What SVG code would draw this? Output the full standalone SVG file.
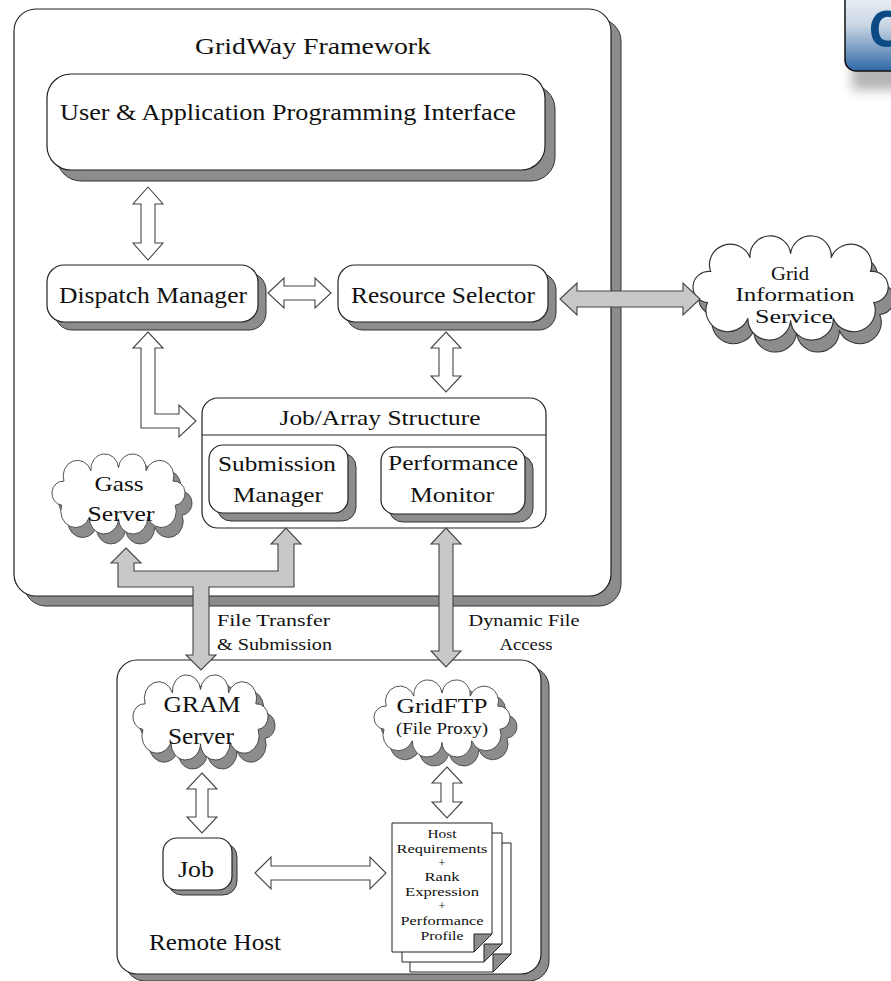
<svg xmlns="http://www.w3.org/2000/svg" width="891" height="981" viewBox="0 0 891 981">
<defs>
<style>
text{font-family:"Liberation Serif","Times New Roman",serif;fill:#111;}
.box{fill:#fff;stroke:#222;stroke-width:1.2;}
.shd{fill:#8c8c8c;stroke:#333;stroke-width:1;}
.ha{fill:#fff;stroke:#444;stroke-width:1.1;}
.ga{fill:#c8c8c8;stroke:#444;stroke-width:1.1;}
.cl{fill:#fff;stroke:#333;stroke-width:1.1;vector-effect:non-scaling-stroke;}
.cs{fill:#8c8c8c;stroke:#333;stroke-width:1;vector-effect:non-scaling-stroke;}
.pg{fill:#fff;stroke:#222;stroke-width:1;}
.fold{fill:#8c8c8c;stroke:#222;stroke-width:1;}
.m{text-anchor:middle;}
</style>
<path id="cloud" d="M25,35 A1,1 0 0 1 62,22 A1,1 0 0 1 100,18 A1,1 0 0 1 138,22 A1,1 0 0 1 175,35 A1,1 0 0 1 178,65 A1,1 0 0 1 140,80 A1,1 0 0 1 100,82 A1,1 0 0 1 60,80 A1,1 0 0 1 22,65 A1,1 0 0 1 25,35 Z"/>
<linearGradient id="lg" x1="0" y1="0" x2="0" y2="1">
<stop offset="0" stop-color="#f4f7fa"/>
<stop offset="0.45" stop-color="#c9d6e4"/>
<stop offset="1" stop-color="#2f68a6"/>
</linearGradient>
<filter id="blur" x="-50%" y="-50%" width="200%" height="200%"><feGaussianBlur stdDeviation="6"/></filter>
</defs>

<g id="logo">
<rect x="852" y="60" width="60" height="30" fill="#777" opacity="0.55" filter="url(#blur)"/>
<rect x="845" y="-12" width="70" height="83" rx="11" fill="url(#lg)" stroke="#111" stroke-width="1.5"/>
<text x="868" y="47" style="font-family:'Open Sans','Liberation Sans',sans-serif;font-weight:bold;font-size:50px;fill:#0b4a85">C</text>
</g>

<g id="gridway-framework">
<rect x="24" y="19" width="597" height="587" rx="22" class="shd"/>
<rect x="14" y="9" width="597" height="587" rx="22" class="box"/>
<text x="313" y="54" class="m" font-size="24" textLength="236" lengthAdjust="spacingAndGlyphs">GridWay Framework</text>
</g>

<g id="remote-host">
<rect x="125" y="667" width="424" height="314" rx="20" class="shd"/>
<rect x="117" y="660" width="424" height="314" rx="20" class="box"/>
<text x="149" y="950" font-size="23" textLength="132" lengthAdjust="spacingAndGlyphs">Remote Host</text>
</g>

<g id="uapi">
<rect x="57" y="85" width="498" height="96" rx="24" class="shd"/>
<rect x="47" y="74" width="498" height="96" rx="24" class="box"/>
<text x="288" y="120" class="m" font-size="24" textLength="456" lengthAdjust="spacingAndGlyphs">User &amp; Application Programming Interface</text>
</g>

<g id="dispatch-manager">
<rect x="55" y="273" width="211" height="57" rx="17" class="shd"/>
<rect x="47" y="265" width="211" height="57" rx="17" class="box"/>
<text x="153" y="303" class="m" font-size="24" textLength="188" lengthAdjust="spacingAndGlyphs">Dispatch Manager</text>
</g>

<g id="resource-selector">
<rect x="346" y="273" width="210" height="57" rx="17" class="shd"/>
<rect x="338" y="265" width="210" height="57" rx="17" class="box"/>
<text x="443" y="303" class="m" font-size="24" textLength="184" lengthAdjust="spacingAndGlyphs">Resource Selector</text>
</g>

<g id="job-array-structure">
<rect x="202" y="398" width="344" height="130" rx="16" class="box"/>
<line x1="202" y1="435" x2="546" y2="435" stroke="#222" stroke-width="1.2"/>
<text x="380" y="425" class="m" font-size="22" textLength="201" lengthAdjust="spacingAndGlyphs">Job/Array Structure</text>
</g>

<g id="submission-manager">
<rect x="217" y="453" width="139" height="68" rx="14" class="shd"/>
<rect x="209" y="445" width="139" height="68" rx="14" class="box"/>
<text x="277" y="471" class="m" font-size="22" textLength="118" lengthAdjust="spacingAndGlyphs">Submission</text>
<text x="278" y="502" class="m" font-size="22" textLength="90" lengthAdjust="spacingAndGlyphs">Manager</text>
</g>

<g id="performance-monitor">
<rect x="389" y="455" width="144" height="67" rx="14" class="shd"/>
<rect x="381" y="447" width="144" height="67" rx="14" class="box"/>
<text x="453" y="470" class="m" font-size="22" textLength="130" lengthAdjust="spacingAndGlyphs">Performance</text>
<text x="452" y="502" class="m" font-size="22" textLength="84" lengthAdjust="spacingAndGlyphs">Monitor</text>
</g>

<g id="gass-server">
<use href="#cloud" class="cs" transform="translate(52.8,463.2) scale(0.727,0.8)"/>
<use href="#cloud" class="cl" transform="translate(45.8,453.2) scale(0.727,0.8)"/>
<text x="119" y="491" class="m" font-size="22" textLength="49" lengthAdjust="spacingAndGlyphs">Gass</text>
<text x="121" y="521" class="m" font-size="22" textLength="67" lengthAdjust="spacingAndGlyphs">Server</text>
</g>

<g id="grid-information-service">
<use href="#cloud" class="cs" transform="translate(690,247) scale(1.066,1.04)"/>
<use href="#cloud" class="cl" transform="translate(684,235) scale(1.066,1.04)"/>
<text x="790" y="280" class="m" font-size="19" textLength="38" lengthAdjust="spacingAndGlyphs">Grid</text>
<text x="795" y="301" class="m" font-size="19" textLength="119" lengthAdjust="spacingAndGlyphs">Information</text>
<text x="794" y="323" class="m" font-size="19" textLength="78" lengthAdjust="spacingAndGlyphs">Service</text>
</g>

<g id="gram-server">
<use href="#cloud" class="cs" transform="translate(133.7,683.15) scale(0.738,0.85)"/>
<use href="#cloud" class="cl" transform="translate(126.7,674.15) scale(0.738,0.85)"/>
<text x="202" y="712" class="m" font-size="23" textLength="77" lengthAdjust="spacingAndGlyphs">GRAM</text>
<text x="201" y="744" class="m" font-size="23" textLength="66" lengthAdjust="spacingAndGlyphs">Server</text>
</g>

<g id="gridftp">
<use href="#cloud" class="cs" transform="translate(374.7,688.2) scale(0.743,0.77)"/>
<use href="#cloud" class="cl" transform="translate(367.7,679.2) scale(0.743,0.77)"/>
<text x="442" y="713" class="m" font-size="22" textLength="91" lengthAdjust="spacingAndGlyphs">GridFTP</text>
<text x="442" y="734" class="m" font-size="16" textLength="92" lengthAdjust="spacingAndGlyphs">(File Proxy)</text>
</g>

<g id="job">
<rect x="168" y="843" width="69" height="52" rx="14" class="shd"/>
<rect x="163" y="838" width="69" height="52" rx="14" class="box"/>
<text x="196" y="877" class="m" font-size="23" textLength="36" lengthAdjust="spacingAndGlyphs">Job</text>
</g>

<g id="documents">
<polygon points="410,843 511,843 511,954 493,972 410,972" class="pg"/>
<polygon points="511,954 493,954 493,972" class="fold"/>
<polygon points="402,833 502,833 502,944 484,962 402,962" class="pg"/>
<polygon points="502,944 484,944 484,962" class="fold"/>
<polygon points="392,823 492,823 492,934 474,952 392,952" class="pg"/>
<polygon points="492,934 474,934 474,952" class="fold"/>
<text x="442" y="838" class="m" font-size="12" textLength="29" lengthAdjust="spacingAndGlyphs">Host</text>
<text x="442" y="853" class="m" font-size="12" textLength="91" lengthAdjust="spacingAndGlyphs">Requirements</text>
<text x="442" y="867" class="m" font-size="12">+</text>
<text x="442" y="881" class="m" font-size="12" textLength="35" lengthAdjust="spacingAndGlyphs">Rank</text>
<text x="442" y="896" class="m" font-size="12" textLength="74" lengthAdjust="spacingAndGlyphs">Expression</text>
<text x="442" y="910" class="m" font-size="12">+</text>
<text x="442" y="925" class="m" font-size="12" textLength="83" lengthAdjust="spacingAndGlyphs">Performance</text>
<text x="442" y="940" class="m" font-size="12" textLength="43" lengthAdjust="spacingAndGlyphs">Profile</text>
</g>

<g id="connectors">
<polygon class="ha" points="148,187 163,204 155,204 155,243 163,243 148,260 133,243 141,243 141,204 133,204"/>
<polygon class="ha" points="268,293 284,278 284,286 315,286 315,278 331,293 315,308 315,300 284,300 284,308"/>
<polygon class="ha" points="446,332 461,348 453,348 453,376 461,376 446,392 431,376 439,376 439,348 431,348"/>
<polygon class="ha" points="148,332 163,348 155,348 155,414 179,414 179,405 196,421 179,437 179,428 141,428 141,348 133,348"/>
<polygon class="ga" points="560,299 577,283 577,291 683,291 683,283 700,299 683,315 683,307 577,307 577,315"/>
<polygon class="ga" points="446,528 461,544 453,544 453,651 461,651 446,667 431,651 439,651 439,544 431,544"/>
<polygon class="ga" points="126,548 141,563 134,563 134,571 278,571 278,544 271,544 286,528 301,544 294,544 294,587 209,587 209,655 216,655 201,670 186,655 193,655 193,587 118,587 118,563 111,563"/>
<polygon class="ha" points="202,773 217,789 208,789 208,817 217,817 202,833 187,817 196,817 196,789 187,789"/>
<polygon class="ha" points="447,767 462,783 453,783 453,802 462,802 447,818 432,802 441,802 441,783 432,783"/>
<polygon class="ha" points="255,873 271,857 271,866 370,866 370,857 386,873 370,889 370,880 271,880 271,889"/>
<text x="217" y="626" font-size="17" textLength="113" lengthAdjust="spacingAndGlyphs">File Transfer</text>
<text x="217" y="650" font-size="17" textLength="115" lengthAdjust="spacingAndGlyphs">&amp; Submission</text>
<text x="524" y="626" class="m" font-size="17" textLength="111" lengthAdjust="spacingAndGlyphs">Dynamic File</text>
<text x="526" y="650" class="m" font-size="17" textLength="53" lengthAdjust="spacingAndGlyphs">Access</text>
</g>
</svg>
